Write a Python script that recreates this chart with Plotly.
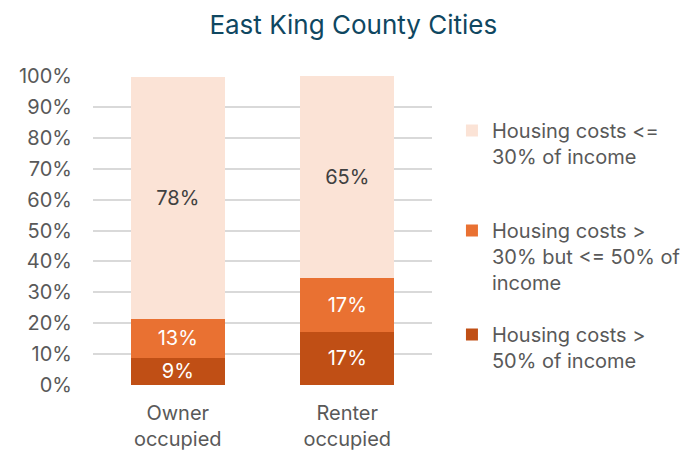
import plotly.graph_objects as go

# Housing cost burden by tenure, East King County cities (share of households, %)
categories = ["Owner<br>occupied", "Renter<br>occupied"]
series_names = [
    "Housing costs ><br>50% of income",
    "Housing costs ><br>30% but <= 50% of<br>income",
    "Housing costs <=<br>30% of income",
]
burden_over_50 = [8.8, 17.2]
burden_30_to_50 = [12.6, 17.3]
burden_under_30 = [78.4, 65.4]
y_ticks = list(range(0, 101, 10))
y_tick_labels = [f"{v}%" for v in y_ticks]

colors = ["#C04F15", "#E97132", "#FBE3D6"]
label_colors = ["#FFFFFF", "#FFFFFF", "#404040"]
legends = ["legend3", "legend2", "legend"]
FONT = "Inter, Open Sans, sans-serif"

fig = go.Figure()
for name, vals, col, lcol, lg in zip(
    series_names,
    [burden_over_50, burden_30_to_50, burden_under_30],
    colors, label_colors, legends,
):
    fig.add_trace(go.Bar(
        x=categories, y=vals, name=name,
        marker=dict(color=col, line=dict(width=0)),
        texttemplate="%{y:.0f}%", textposition="inside",
        insidetextanchor="middle",
        textfont=dict(family=FONT, size=20, color=lcol),
        legend=lg, showlegend=True,
    ))

legend_common = dict(
    xref="container", yref="container", x=0.655, xanchor="left",
    yanchor="top", valign="top", bgcolor="rgba(0,0,0,0)",
    font=dict(family=FONT, size=20, color="#595959"),
)

fig.update_layout(
    width=690, height=456,
    barmode="stack", bargap=0.445,
    showlegend=True,
    paper_bgcolor="white", plot_bgcolor="white",
    margin=dict(l=93, r=258, t=76, b=71),
    title=dict(
        text="East King County Cities", x=0.512, xanchor="center",
        y=0.945, yanchor="middle",
        font=dict(family=FONT, size=26, color="#0F4761"),
    ),
    uniformtext=dict(minsize=20, mode="show"),
    legend=dict(**legend_common, y=1 - 111 / 456),
    legend2=dict(**legend_common, y=1 - 211 / 456),
    legend3=dict(**legend_common, y=1 - 315 / 456),
    xaxis=dict(
        showgrid=False, showline=False, ticks="",
        automargin=False, ticklabelstandoff=14,
        tickfont=dict(family=FONT, size=20, color="#595959"),
    ),
    yaxis=dict(
        range=[0, 100], tickvals=y_ticks, ticktext=y_tick_labels,
        showgrid=True, gridcolor="#D9D9D9", gridwidth=1.6,
        zeroline=False, showline=False, ticks="",
        automargin=False, ticklabelstandoff=20,
        tickfont=dict(family=FONT, size=20, color="#595959"),
    ),
)

fig.write_html("out.html")
